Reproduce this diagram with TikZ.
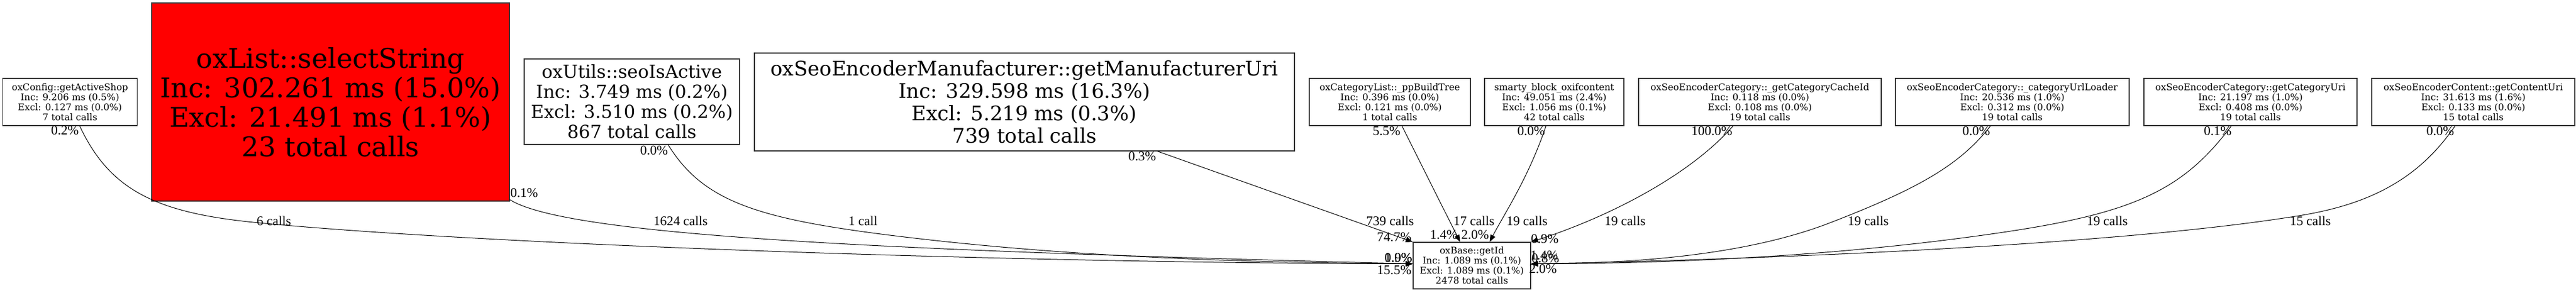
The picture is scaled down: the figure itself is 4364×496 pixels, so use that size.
\documentclass[tikz,border=0pt]{standalone}
\usepackage{fontspec}
\setmainfont{DejaVu Serif}
\newfontfamily\labfont{Liberation Serif}
\usetikzlibrary{arrows.meta}
\begin{document}
\begin{tikzpicture}[x=1pt,y=-1pt,
  fn/.style={draw=black!80, line width=1.3pt, inner sep=0pt, align=center,
    font=\fontsize{15.7}{17}\selectfont, minimum height=80pt},
  lbl/.style={inner sep=0pt, font=\labfont\fontsize{22.5}{24}\selectfont},
  edge/.style={line width=1pt, -{Triangle[length=12pt,width=9pt]}},
]
\useasboundingbox (0,0) rectangle (4364,496);
\fill[white] (0,0) rectangle (4364,496);

% nodes
\node[fn, minimum width=227.5pt] (cfg) at (118.5,173) {oxConfig::getActiveShop\\Inc: 9.206 ms (0.5\%)\\Excl: 0.127 ms (0.0\%)\\7 total calls};
\node[fn, fill=red, minimum width=606pt, minimum height=336pt, font=\fontsize{46}{50}\selectfont] (sel) at (560,173) {oxList::selectString\\Inc: 302.261 ms (15.0\%)\\Excl: 21.491 ms (1.1\%)\\23 total calls};
\node[fn, minimum width=365pt, minimum height=145pt, font=\fontsize{30.5}{34}\selectfont] (seo) at (1070.5,172.5) {oxUtils::seoIsActive\\Inc: 3.749 ms (0.2\%)\\Excl: 3.510 ms (0.2\%)\\867 total calls};
\node[fn, minimum width=915pt, minimum height=166pt, font=\fontsize{34}{38}\selectfont] (man) at (1735.5,173) {oxSeoEncoderManufacturer::getManufacturerUri\\Inc: 329.598 ms (16.3\%)\\Excl: 5.219 ms (0.3\%)\\739 total calls};
\node[fn, minimum width=273pt] (ppb) at (2354.5,173) {oxCategoryList::\_ppBuildTree\\Inc: 0.396 ms (0.0\%)\\Excl: 0.121 ms (0.0\%)\\1 total calls};
\node[fn, minimum width=236pt] (sma) at (2633,173) {smarty\_block\_oxifcontent\\Inc: 49.051 ms (2.4\%)\\Excl: 1.056 ms (0.1\%)\\42 total calls};
\node[fn, minimum width=411pt] (gcc) at (2981.5,173) {oxSeoEncoderCategory::\_getCategoryCacheId\\Inc: 0.118 ms (0.0\%)\\Excl: 0.108 ms (0.0\%)\\19 total calls};
\node[fn, minimum width=396pt] (cul) at (3409,173) {oxSeoEncoderCategory::\_categoryUrlLoader\\Inc: 20.536 ms (1.0\%)\\Excl: 0.312 ms (0.0\%)\\19 total calls};
\node[fn, minimum width=361pt] (gcu) at (3812.5,173) {oxSeoEncoderCategory::getCategoryUri\\Inc: 21.197 ms (1.0\%)\\Excl: 0.408 ms (0.0\%)\\19 total calls};
\node[fn, minimum width=344pt] (gcn) at (4190,173) {oxSeoEncoderContent::getContentUri\\Inc: 31.613 ms (1.6\%)\\Excl: 0.133 ms (0.0\%)\\15 total calls};
\node[fn, minimum width=199pt, minimum height=79pt] (base) at (2493.5,450.5) {oxBase::getId\\Inc: 1.089 ms (0.1\%)\\Excl: 1.089 ms (0.1\%)\\2478 total calls};

% edges
\draw[edge] ([xshift=16.5pt]cfg.south) .. controls (185,320) and (260,360) .. (429,377) .. controls (800,414) and (1700,446) .. ([yshift=3pt]base.west);
\draw[edge] ([yshift=3pt]sel.south east) .. controls (960,400) and (1500,425) .. ([yshift=3pt]base.west);
\draw[edge] ([xshift=61.5pt]seo.south) .. controls (1190,340) and (1280,370) .. (1500,398) .. controls (1800,436) and (2100,445) .. ([yshift=3pt]base.west);
\draw[edge] ([xshift=225.5pt]man.south) -- (base.north west);
\draw[edge] ([xshift=20.5pt]ppb.south) -- ([xshift=-20pt]base.north);
\draw[edge] ([xshift=-14pt]sma.south) .. controls (2590,300) and (2550,360) .. ([xshift=30pt]base.north);
\draw[edge] ([xshift=-45.5pt]gcc.south) .. controls (2860,300) and (2720,370) .. (base.north east);
\draw[edge] ([xshift=-37pt]cul.south) .. controls (3320,280) and (3250,320) .. (3100,378) .. controls (2950,436) and (2750,447) .. ([yshift=3pt]base.east);
\draw[edge] ([xshift=-32.5pt]gcu.south) .. controls (3700,320) and (3620,360) .. (3400,393) .. controls (3100,438) and (2800,447) .. ([yshift=3pt]base.east);
\draw[edge] ([xshift=-31pt]gcn.south) .. controls (4100,300) and (4020,345) .. (3900,365) .. controls (3600,415) and (3000,440) .. ([yshift=3pt]base.east);

% tail labels
\node[lbl] (tcfg) at (110,221) {0.2\%};
\node[lbl] (tsel) at (888,327) {0.1\%};
\node[lbl] (tseo) at (1108,255) {0.0\%};
\node[lbl] (tman) at (1935,265) {0.3\%};
\node[lbl] (tppb) at (2349,222) {5.5\%};
\node[lbl] (tsma) at (2594,222) {0.0\%};
\node[lbl] (tgcc) at (2900,222) {100.0\%};
\node[lbl] (tcul) at (3348,222) {0.0\%};
\node[lbl] (tgcu) at (3757,222) {0.1\%};
\node[lbl] (tgcn) at (4134,222) {0.0\%};

% call labels
\node[lbl] (ccfg) at (464,375) {6 calls};
\node[lbl] (csel) at (1153,375) {1624 calls};
\node[lbl] (cseo) at (1462,375) {1 call};
\node[lbl] (cman) at (2355,375) {739 calls};
\node[lbl] (cppb) at (2497,375) {17 calls};
\node[lbl] (csma) at (2587,375) {19 calls};
\node[lbl] (cgcc) at (2753,375) {19 calls};
\node[lbl] (ccul) at (3165,375) {19 calls};
\node[lbl] (cgcu) at (3570,375) {19 calls};
\node[lbl] (cgcn) at (3914,375) {15 calls};

% head labels
\node[lbl] (hman) at (2362,402) {74.7\%};
\node[lbl] (hppb) at (2446,398) {1.4\%};
\node[lbl] (hsma) at (2499,398) {2.0\%};
\node[lbl] (hcfg) at (2369,437) {0.0\%};
\node[lbl] (hseo) at (2369,437) {1.9\%};
\node[lbl] (hsel) at (2362,458) {15.5\%};
\node[lbl] (hgcc) at (2617,405) {0.9\%};
\node[lbl] (hcul) at (2616,433) {1.4\%};
\node[lbl] (hgcu) at (2618,438) {0.8\%};
\node[lbl] (hgcn) at (2614,456) {2.0\%};
\end{tikzpicture}
\end{document}
